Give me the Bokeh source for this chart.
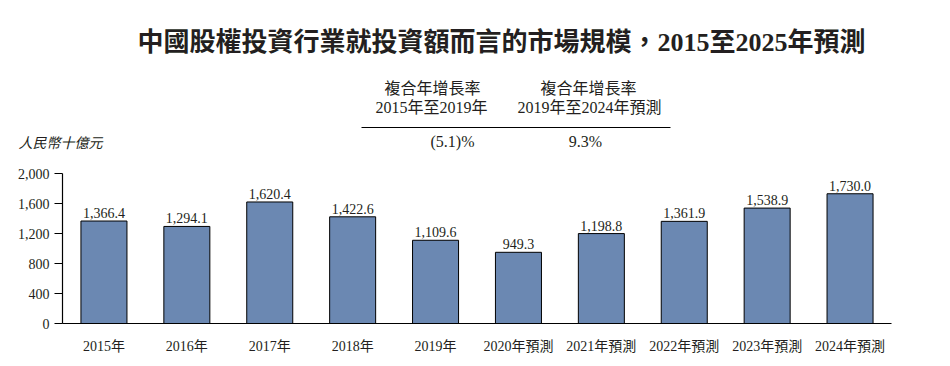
from bokeh.plotting import figure
from bokeh.layouts import column
from bokeh.models import ColumnDataSource, FactorRange, Range1d, FixedTicker, NumeralTickFormatter
from bokeh.core.properties import value
from bokeh.embed import file_html
from bokeh.resources import INLINE

categories = ["2015年", "2016年", "2017年", "2018年", "2019年",
              "2020年預測", "2021年預測", "2022年預測", "2023年預測", "2024年預測"]
values = [1366.4, 1294.1, 1620.4, 1422.6, 1109.6, 949.3, 1198.8, 1361.9, 1538.9, 1730.0]
labels = ["1,366.4", "1,294.1", "1,620.4", "1,422.6", "1,109.6", "949.3", "1,198.8", "1,361.9", "1,538.9", "1,730.0"]
y_ticks = [0, 400, 800, 1200, 1600, 2000]
title_text = "中國股權投資行業就投資額而言的市場規模，2015至2025年預測"
unit_text = "人民幣十億元"
cagr_head = ["複合年增長率", "複合年增長率"]
cagr_period = ["2015年至2019年", "2019年至2024年預測"]
cagr_values = ["(5.1)%", "9.3%"]

FONT = "Liberation Serif, Noto Sans CJK TC"
TXT = "#231f20"
W = 934
TOP_H = 163
L, R, T, B = 62, 43, 10, 33
FH = 150
H = T + FH + B

# ---------- header figure (title, CAGR table, unit) ----------
top = figure(width=W, height=TOP_H, x_range=Range1d(0, W), y_range=Range1d(TOP_H, 0),
             output_backend="svg", toolbar_location=None,
             min_border_left=0, min_border_right=0, min_border_top=0, min_border_bottom=0)
top.frame_align = False
top.axis.visible = False
top.grid.visible = False
top.outline_line_color = None

def txt(fig, text, x, y, size="16px", style="normal", align="center"):
    fig.text(x=[x], y=[y], text=[text], text_align=align, text_baseline="middle",
             text_font=value(FONT), text_font_size=size, text_font_style=style, text_color=TXT)

txt(top, title_text, 501, 42, size="26px", style="bold")
txt(top, cagr_head[0], 432, 88)
txt(top, cagr_period[0], 431, 107)
txt(top, cagr_head[1], 588, 88)
txt(top, cagr_period[1], 589, 107)
txt(top, cagr_values[0], 452, 141)
txt(top, cagr_values[1], 585, 141)
txt(top, unit_text, 18, 143, size="14px", style="italic", align="left")
top.segment(x0=[361], y0=[127], x1=[670], y1=[127], line_color="black", line_width=1)

# ---------- chart figure ----------
p = figure(width=W, height=H, x_range=FactorRange(*categories, range_padding=0),
           y_range=Range1d(0, 2000), output_backend="svg", toolbar_location=None,
           min_border_left=L, min_border_right=R, min_border_top=T, min_border_bottom=B)
p.frame_align = False
p.outline_line_color = None
p.grid.visible = False

src = ColumnDataSource(dict(cat=categories, val=values, lab=labels))
p.vbar(x="cat", top="val", width=0.555, source=src, fill_color="#6b88b2",
       line_color="black", line_width=1)
p.text(x="cat", y="val", text="lab", source=src, text_align="center", text_baseline="bottom",
       y_offset=-3, text_font=value(FONT), text_font_size="14px", text_color=TXT)

p.yaxis.ticker = FixedTicker(ticks=y_ticks)
p.yaxis.formatter = NumeralTickFormatter(format="0,0")
p.yaxis.major_tick_out = 8
p.yaxis.major_tick_in = 0
p.yaxis.minor_tick_line_color = None
p.yaxis.major_label_standoff = 5
p.xaxis.major_tick_line_color = None
p.xaxis.major_label_standoff = 9
for ax in (p.xaxis, p.yaxis):
    ax.axis_line_color = "black"
    ax.axis_line_width = 1.2
    ax.major_label_text_font = FONT
    ax.major_label_text_font_size = "14px"
    ax.major_label_text_color = TXT
p.yaxis.major_tick_line_color = "black"

layout = column(top, p, spacing=0)
open("out.html", "w").write(file_html(layout, INLINE))
